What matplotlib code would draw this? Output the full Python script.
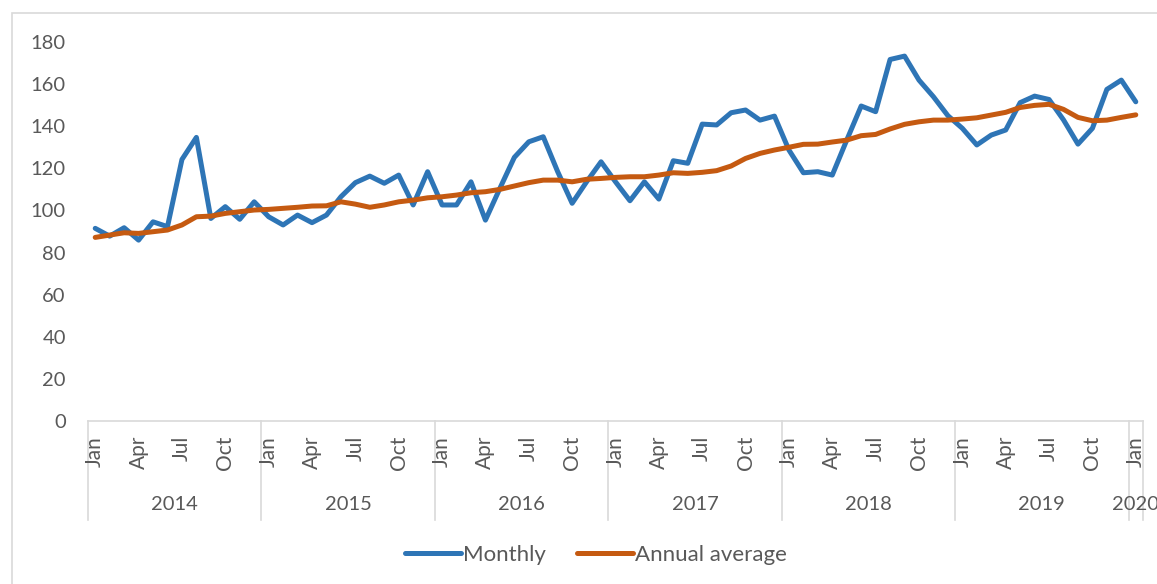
import matplotlib
matplotlib.use("Agg")
import matplotlib.pyplot as plt
from matplotlib.lines import Line2D
from matplotlib.patches import Rectangle
import matplotlib.transforms as mtransforms

plt.rcParams['font.family'] = ['Lato', 'DejaVu Sans']

# Monthly values Jan 2014 .. Jan 2020
years = ["2014", "2015", "2016", "2017", "2018", "2019", "2020"]
month_labels = ["Jan", "", "", "Apr", "", "", "Jul", "", "", "Oct", "", ""]

monthly = [
    91.5, 87.8, 91.8, 85.9, 94.6, 92.3, 124.2, 134.7, 96.2, 101.8, 95.8, 104.1,
    97.0, 93.1, 97.8, 94.2, 97.8, 106.5, 113.2, 116.3, 112.9, 116.8, 102.6, 118.4,
    102.6, 102.6, 113.6, 95.4, 110.5, 125.2, 132.6, 135.0, 118.4, 103.4, 113.6, 123.1,
    113.6, 104.6, 113.6, 105.4, 123.6, 122.4, 141.0, 140.6, 146.4, 147.7, 142.9, 144.8,
    128.7, 117.9, 118.4, 116.8, 133.4, 149.6, 146.9, 171.7, 173.3, 161.9, 154.0, 145.0,
    139.0, 131.1, 135.8, 138.2, 151.2, 154.3, 152.7, 143.0, 131.5, 139.0, 157.5, 161.9,
    151.6,
]
annual_avg = [
    87.2, 88.3, 89.4, 89.1, 89.9, 90.7, 93.1, 97.0, 97.3, 98.6, 99.4, 100.2,
    100.5, 101.0, 101.5, 102.1, 102.2, 104.1, 103.0, 101.5, 102.6, 104.1, 104.9, 106.0,
    106.5, 107.3, 108.4, 108.9, 110.0, 111.6, 113.2, 114.4, 114.4, 113.6, 114.8, 115.2,
    115.7, 116.0, 116.0, 116.8, 117.9, 117.6, 118.1, 118.9, 121.1, 124.7, 127.1, 128.7,
    130.0, 131.4, 131.5, 132.5, 133.4, 135.5, 136.1, 138.7, 140.9, 142.1, 142.9, 142.9,
    143.4, 144.0, 145.3, 146.6, 148.9, 149.9, 150.4, 148.0, 144.2, 142.6, 142.9, 144.2,
    145.4,
]

BLUE = "#2E75B6"
ORANGE = "#C55A11"
TEXT = "#595959"
GRID = "#D9D9D9"

W, H = 1157, 584
fig = plt.figure(figsize=(W / 100, H / 100), dpi=100)
fig.patch.set_facecolor("white")

# chart area border (cropped on right/bottom)
fig.add_artist(Rectangle((12 / W, -0.1), 1.2, 1 - 13 / H + 0.1, transform=fig.transFigure,
                         fill=False, edgecolor=GRID, linewidth=1.2))

ax = fig.add_axes([88 / W, 1 - 421 / H, (1143 - 88) / W, (421 - 42) / H])
x = list(range(len(monthly)))
ax.plot(x, monthly, color=BLUE, linewidth=3.6, solid_capstyle="round",
        solid_joinstyle="round", label="Monthly", clip_on=False)
ax.plot(x, annual_avg, color=ORANGE, linewidth=3.6, solid_capstyle="round",
        solid_joinstyle="round", label="Annual average", clip_on=False)

ax.set_xlim(-0.5, len(monthly) - 0.5)
ax.set_ylim(0, 180)
ax.set_yticks(range(0, 181, 20))
ax.tick_params(axis="y", length=0, pad=16, labelsize=14.5, labelcolor=TEXT)
ax.set_xticks([])
for s in ["top", "right", "left"]:
    ax.spines[s].set_visible(False)
ax.spines["bottom"].set_color(GRID)
ax.spines["bottom"].set_linewidth(1.2)

trans = mtransforms.blended_transform_factory(ax.transData, ax.transAxes)
px = 1 / (421 - 42)  # one pixel in axes fraction

# month labels
for i in range(len(monthly)):
    lab = month_labels[i % 12]
    if lab:
        ax.text(i, -15 * px, lab, transform=trans, rotation=90, ha="center", va="top",
                fontsize=15, color=TEXT)

# year separators and labels
for k, yr in enumerate(years):
    start = k * 12 - 0.5
    end = min(start + 12, len(monthly) - 0.5)
    ax.add_line(Line2D([start, start], [0, -99 * px], transform=trans, color=GRID,
                       linewidth=1.2, clip_on=False))
    ax.text((start + end) / 2, -83 * px, yr, transform=trans, ha="center", va="center",
            fontsize=14.5, color=TEXT)
last = len(monthly) - 0.5
ax.add_line(Line2D([last, last], [0, -99 * px], transform=trans, color=GRID,
                   linewidth=1.2, clip_on=False))

fig.legend(loc="center", bbox_to_anchor=(596 / W, 1 - 555 / H), ncol=2, frameon=False,
           fontsize=16, labelcolor=TEXT, handlelength=2.5, handletextpad=0.1,
           columnspacing=1.4)

fig.savefig("out.png", dpi=100, facecolor="white")
